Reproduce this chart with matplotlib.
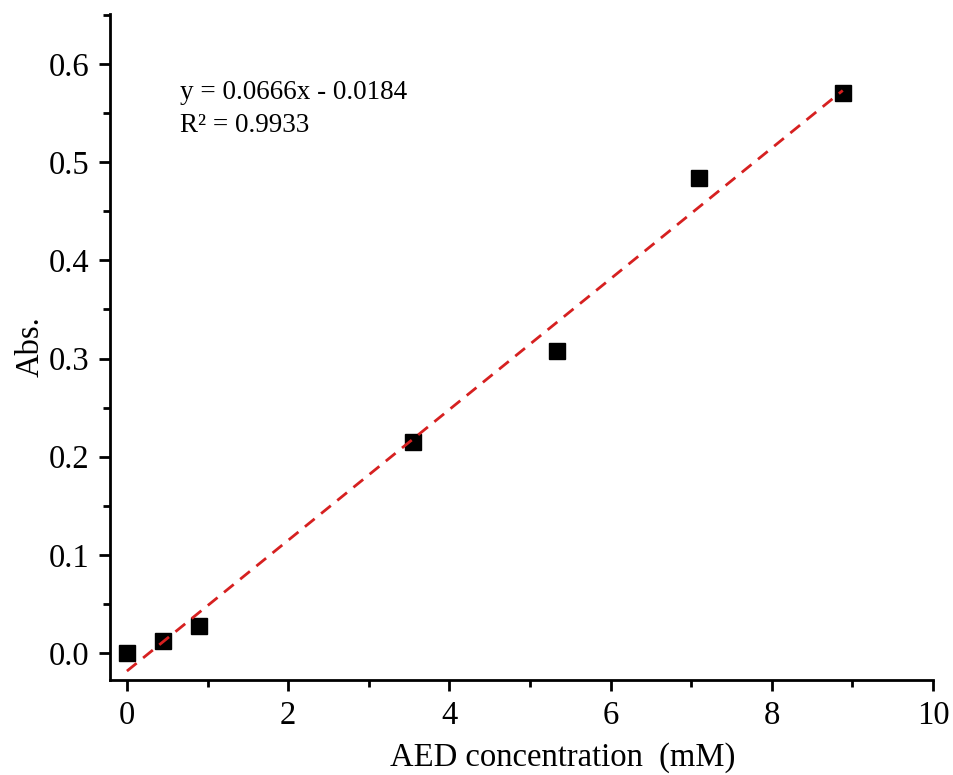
import numpy as np
import matplotlib.pyplot as plt
from matplotlib.ticker import MultipleLocator

plt.rcParams['font.family'] = ['Liberation Serif', 'DejaVu Serif']

# dados
conc = [0, 0.444, 0.888, 3.55, 5.33, 7.10, 8.88]
absorb = [0.0, 0.0122, 0.0275, 0.215, 0.308, 0.484, 0.570]
slope = 0.0666
intercept = -0.0184
eq_text = 'y = 0.0666x - 0.0184\nR\u00b2 = 0.9933'

fig = plt.figure(figsize=(9.54, 7.75), dpi=100)
ax = fig.add_axes([0.1153, 0.1226, 0.8627, 0.8594])

ax.plot(conc, absorb, 's', color='black', markersize=11, zorder=2)
xfit = np.array([conc[0], conc[-1]])
ax.plot(xfit, slope * xfit + intercept, '--', color='#d62020', lw=2,
        dashes=(4.5, 3), zorder=3)

ax.set_xlim(-0.21, 10)
ax.set_ylim(-0.0275, 0.651)
ax.xaxis.set_major_locator(MultipleLocator(2))
ax.xaxis.set_minor_locator(MultipleLocator(1))
ax.yaxis.set_major_locator(MultipleLocator(0.1))
ax.yaxis.set_minor_locator(MultipleLocator(0.05))
ax.yaxis.set_major_formatter(plt.FormatStrFormatter('%.1f'))

for s in ['top', 'right']:
    ax.spines[s].set_visible(False)
for s in ['left', 'bottom']:
    ax.spines[s].set_linewidth(2)
ax.tick_params(which='major', direction='out', length=8, width=2,
               labelsize=23.5, pad=7)
ax.tick_params(which='minor', direction='out', length=5, width=2)

ax.text(0.66, 0.584, eq_text, fontsize=19.5, va='top', ha='left',
        linespacing=1.45)

ax.set_xlabel('AED concentration  (mM)', fontsize=23.5, va='center')
ax.xaxis.set_label_coords(0.55, -0.116)
ax.set_ylabel('Abs.', fontsize=23.5, va='center')
ax.yaxis.set_label_coords(-0.097, 0.5)

fig.savefig('out.png', dpi=100)
